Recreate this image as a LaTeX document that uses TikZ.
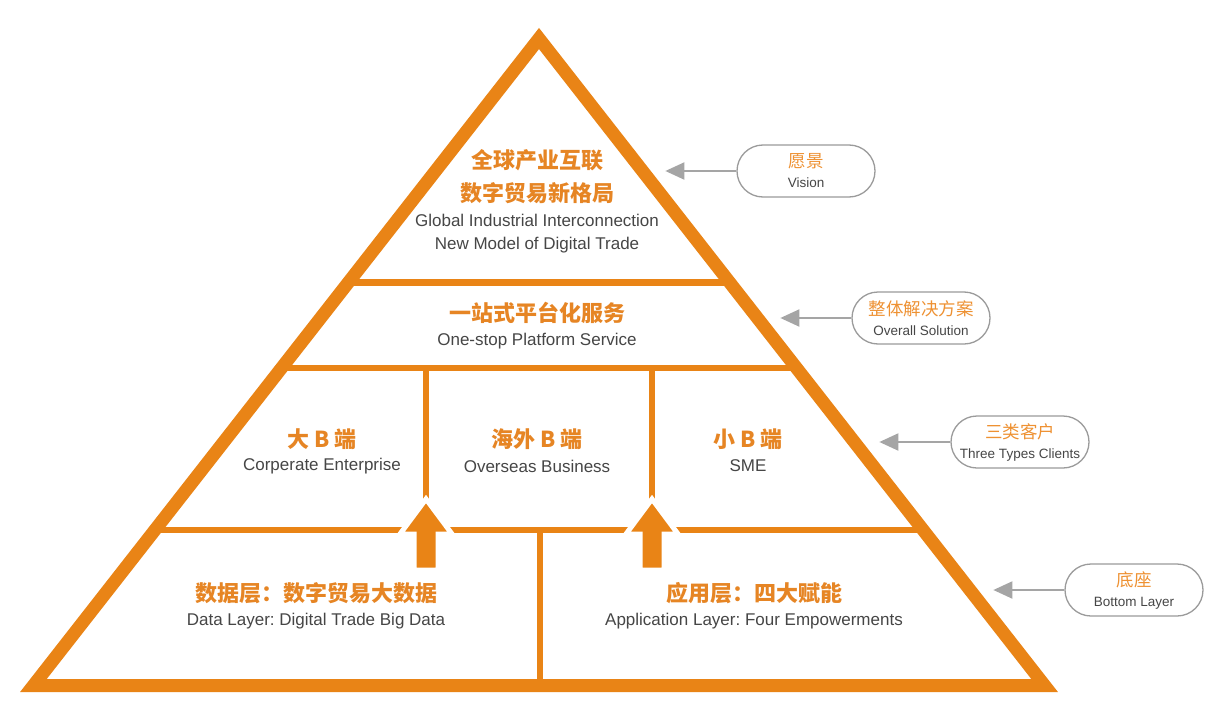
\documentclass[tikz,border=0pt]{standalone}
\usepackage{fontspec}
\setmainfont{Liberation Sans}
\newfontfamily\cjk{Noto Sans CJK SC}
\usetikzlibrary{arrows.meta,positioning}
\frenchspacing

\definecolor{pyr}{RGB}{233,132,22}
\definecolor{pyrtext}{RGB}{230,133,36}
\definecolor{tagorange}{RGB}{238,145,50}
\definecolor{txtgray}{RGB}{70,70,70}
\definecolor{pillline}{RGB}{155,155,155}
\definecolor{pointergray}{RGB}{165,165,165}

\newcommand{\pilltext}[2]{{\cjk\fontsize{17.5}{20}\selectfont\color{tagorange}#1}\\#2}

\tikzset{
  head/.style={font=\cjk\bfseries\fontsize{22}{33}\selectfont, text=pyrtext, align=center, inner sep=0},
  sub/.style={font=\fontsize{17}{23}\selectfont, text=txtgray, align=center, inner sep=0},
  pill/.style={draw=pillline, line width=1.3pt, fill=white, rounded corners=26pt,
    minimum width=138pt, minimum height=52pt, align=center, inner sep=0,
    font=\fontsize{13.5}{20}\selectfont, text=txtgray},
  pointer/.style={draw=pointergray, line width=2pt, -{Triangle[length=19pt,width=17pt]}},
  divider/.style={draw=pyr, line width=6.5pt},
  uparrow/.style={fill=pyr, draw=white, line width=5pt, line join=miter},
  frame/.style={draw=pyr, line width=13pt, line join=miter}
}

\begin{document}
\begin{tikzpicture}[x=1pt,y=-1pt]
\fill[white] (0,0) rectangle (1230,706);

\coordinate (top) at (539,38.5);
\coordinate (bl) at (33.4,685.5);
\coordinate (br) at (1044.6,685.5);

% layers
\begin{scope}
  \clip (top) -- (bl) -- (br) -- cycle;
  \foreach \y in {282.5,368,530}
    \draw[divider] (0,\y) -- (1230,\y);
  \draw[divider] (426,368) -- (426,500);
  \draw[divider] (652,368) -- (652,500);
  \draw[divider] (540,530) -- (540,690);
\end{scope}
\foreach \x in {426,652}
  \draw[uparrow] (\x,499) -- (\x+26,534) -- (\x+12,534) -- (\x+12,570)
    -- (\x-12,570) -- (\x-12,534) -- (\x-26,534) -- cycle;
\draw[frame] (top) -- (bl) -- (br) -- cycle;

% texts
\node[head] (visioncn) at (537,176.5) {全球产业互联\\数字贸易新格局};
\node[sub] (visionen) at (537,233.5) {Global Industrial Interconnection\\New Model of Digital Trade};
\node[head] (servicecn) at (537,313) {一站式平台化服务};
\node[sub] (serviceen) at (537,341) {One-stop Platform Service};
\node[head] (bigcn) at (322,439) {大 B 端};
\node[sub] (bigen) at (322,466) {Corperate Enterprise};
\node[head] (overseascn) at (537,439) {海外 B 端};
\node[sub] (overseasen) at (537,466) {Overseas Business};
\node[head] (smallcn) at (748,439) {小 B 端};
\node[sub] (smallen) at (748,466) {SME};
\node[head] (datacn) at (316,593) {数据层：数字贸易大数据};
\node[sub] (dataen) at (316,621) {Data Layer: Digital Trade Big Data};
\node[head] (appcn) at (754,593) {应用层：四大赋能};
\node[sub] (appen) at (754,621) {Application Layer: Four Empowerments};

% side tags
\node[pill] (vision) at (806,171) {\pilltext{愿景}{Vision}};
\node[pill] (solution) at (921,318) {\pilltext{整体解决方案}{Overall Solution}};
\node[pill] (clients) at (1020,442) {\pilltext{三类客户}{Three Types Clients}};
\node[pill] (base) at (1134,590) {\pilltext{底座}{Bottom Layer}};
\foreach \n in {vision,solution,clients,base}{
  \coordinate[left=71pt of \n.west] (\n tip);
  \draw[pointer] (\n.west) -- (\n tip);
}
\end{tikzpicture}
\end{document}
